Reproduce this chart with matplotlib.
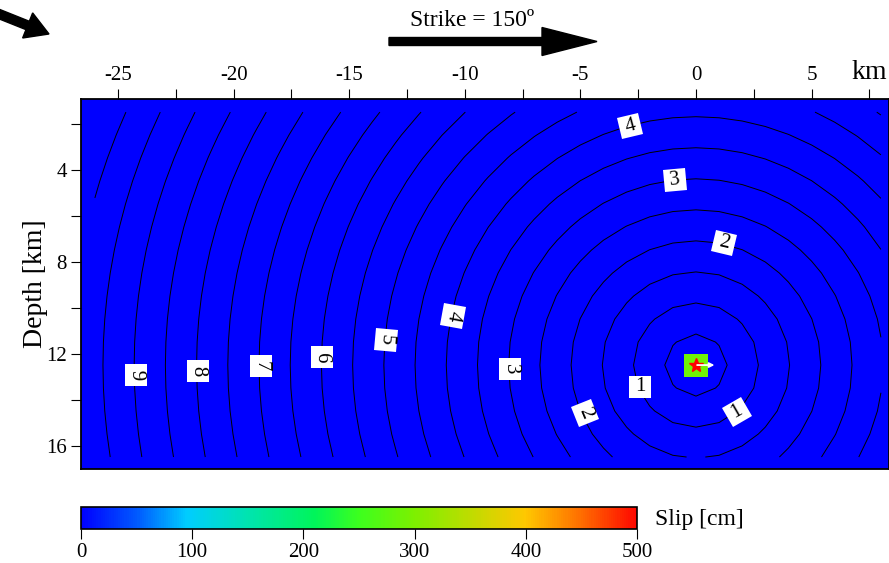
import numpy as np
import matplotlib
matplotlib.use('Agg')
import matplotlib.pyplot as plt
from matplotlib.colors import LinearSegmentedColormap
from matplotlib.markers import MarkerStyle
from matplotlib.transforms import Affine2D
from matplotlib.patches import FancyArrow

plt.rcParams['font.family'] = ['Liberation Serif', 'DejaVu Serif']

# hypocentre and rupture front
hypo_x = 0.0        # km along strike
hypo_depth = 12.48  # km
rupture_velocity = 2.7  # km/s
strike = 150

# subfault grid (1 km spacing, hypocentre on a node)
grid_x = np.arange(-26.0, 8.5, 1.0)
grid_depth = np.arange(1.48, 16.6, 1.0)

# subfaults with non-zero slip
slip_x = [0.0]
slip_depth = [12.48]
slip_cm = [290]
rake_arrow = (0.8, 0.0)  # white slip vector on the patch, km

time_levels = np.arange(0.5, 11.0, 0.5)  # rupture time contours [s]

# contour labels: text, x, depth, rotation
label_text = ['1', '1', '2', '2', '3', '3', '4', '4', '5', '6', '7', '8', '9']
label_x = [-2.42, 1.77, 1.21, -4.80, -0.91, -8.04, -2.85, -10.51, -13.41, -16.18, -18.81, -21.54, -24.22]
label_depth = [13.43, 14.52, 7.17, 14.57, 4.43, 12.65, 2.09, 10.35, 11.39, 12.13, 12.52, 12.74, 12.91]
label_rot = [0, 30, -13, -67, 6, -89, 15, -101, -95, -91, -90, -89, -89]

# colour scale
cbar_ticks = [0, 100, 200, 300, 400, 500]
cmap_pos = [0.0, 0.1, 0.19, 0.3, 0.42, 0.5, 0.6, 0.7, 0.8, 0.9, 1.0]
cmap_rgb = [(0, 0, 255), (0, 90, 255), (0, 205, 255), (0, 228, 175), (0, 245, 90),
            (60, 255, 30), (125, 240, 0), (190, 220, 0), (255, 200, 0), (255, 110, 0), (255, 8, 0)]
slip_cmap = LinearSegmentedColormap.from_list(
    'slip', [(p, tuple(c / 255 for c in rgb)) for p, rgb in zip(cmap_pos, cmap_rgb)])

fig = plt.figure(figsize=(8.89, 5.63), dpi=100)
ax = fig.add_axes([81 / 889, 1 - 469 / 563, 1 - 81 / 889, 370 / 563])
ax.set_facecolor(slip_cmap(0.0))

X, Z = np.meshgrid(grid_x, grid_depth)
slip = np.zeros_like(X)
for sx, sz, s in zip(slip_x, slip_depth, slip_cm):
    i = np.argmin(np.abs(grid_depth - sz))
    j = np.argmin(np.abs(grid_x - sx))
    slip[i, j] = s
mesh = ax.pcolormesh(X, Z, slip, cmap=slip_cmap, vmin=0, vmax=500, shading='nearest')

rupture_time = np.hypot(X - hypo_x, Z - hypo_depth) / rupture_velocity
ax.contour(X, Z, rupture_time, levels=time_levels, colors='k', linewidths=0.7)

# contour labels on square white boxes turned with the text
for t, x, z, r in zip(label_text, label_x, label_depth, label_rot):
    box = MarkerStyle('s', transform=Affine2D().rotate_deg(r))
    ax.plot(x, z, marker=box, ms=15.5, color='white', mec='white', mew=0, zorder=3)
    ax.text(x, z, t, fontsize=15, rotation=r, ha='center', va='center',
            rotation_mode='anchor', zorder=4)

ax.plot(hypo_x, hypo_depth, marker='*', color='red', ms=10, mec='red', zorder=5)
ax.annotate('', xy=(hypo_x + rake_arrow[0], hypo_depth + rake_arrow[1]), xytext=(hypo_x + 0.05, hypo_depth),
            arrowprops=dict(arrowstyle='-|>', color='white', lw=1.3, mutation_scale=7,
                            shrinkA=0, shrinkB=0),
            zorder=7)

ax.set_xlim(-26.6, 8.35)
ax.set_ylim(17.0, 0.91)
ax.xaxis.tick_top()
ax.set_xticks([-25, -20, -15, -10, -5, 0, 5, 7.5])
ax.set_xticklabels(['-25', '-20', '-15', '-10', '-5', '0', '5', 'km'])
ax.set_xticks(np.arange(-22.5, 5, 5), minor=True)
ax.set_yticks([4, 8, 12, 16])
ax.set_yticks([2, 6, 10, 14], minor=True)
ax.tick_params(which='both', direction='out', length=7, width=0.8, labelsize=15, pad=3)
ax.tick_params(axis='x', which='both', top=True, bottom=False)
ax.get_xticklabels()[-1].set_fontsize(20)
for sp in ax.spines.values():
    sp.set_linewidth(1.3)
ax.set_ylabel('Depth [km]', fontsize=20, labelpad=-1)

# colour bar
cax = fig.add_axes([81 / 889, 1 - 529 / 563, 556 / 889, 22 / 563])
cb = fig.colorbar(mesh, cax=cax, orientation='horizontal', ticks=cbar_ticks)
cb.outline.set_linewidth(1.2)
cax.tick_params(direction='out', length=7, width=0.8, labelsize=15, pad=3)
fig.text(655 / 889, 1 - 520 / 563, 'Slip [cm]', fontsize=17, va='center', ha='left')

# strike arrow and direction arrow above the map (inch coordinates)
fig.add_artist(FancyArrow(3.89, 5.215, 2.08, 0.0, width=0.08, head_width=0.28, head_length=0.55,
                          length_includes_head=True, color='black', transform=fig.dpi_scale_trans))
fig.text(4.72 / 8.89, 1 - 21 / 563, 'Strike = %d\u00ba' % strike, fontsize=17, ha='center', va='center')
fig.add_artist(FancyArrow(-0.06, 5.51, 0.55, -0.22, width=0.09, head_width=0.27, head_length=0.23,
                          length_includes_head=True, color='black', transform=fig.dpi_scale_trans))

fig.savefig('out.png', dpi=100)
